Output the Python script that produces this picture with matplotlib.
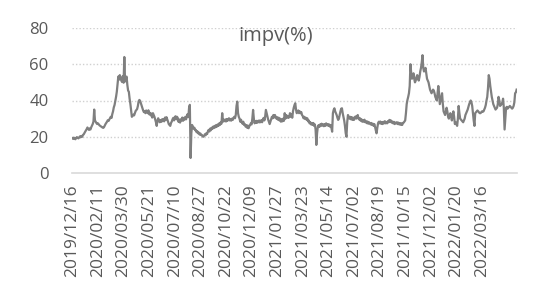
import matplotlib
matplotlib.use("Agg")
import matplotlib.pyplot as plt

plt.rcParams['font.family'] = ['Open Sans', 'DejaVu Sans']

title = "impv(%)"
tick_labels = ["2019/12/16", "2020/02/11", "2020/03/30", "2020/05/21", "2020/07/10",
               "2020/08/27", "2020/10/22", "2020/12/09", "2021/01/27", "2021/03/23",
               "2021/05/14", "2021/07/02", "2021/08/19", "2021/10/15", "2021/12/02",
               "2022/01/20", "2022/03/16"]
label_step = 34  # trading days between labelled categories
y_ticks = [0, 20, 40, 60, 80]

impv = [
    19.2, 18.8, 19.5, 19.0, 18.6, 19.3, 19.8, 19.4, 19.1, 19.6,
    20.2, 19.7, 20.4, 20.0, 21.0, 21.3, 22.1, 22.8, 23.5, 24.2,
    25.1, 24.3, 23.8, 24.6, 24.0, 25.2, 26.1, 27.0, 28.4, 35.0,
    29.0, 28.2, 27.5, 27.0, 27.4, 26.8, 26.3, 26.0, 25.7, 25.4,
    25.1, 24.9, 25.3, 26.2, 27.0, 27.6, 28.3, 29.1, 28.7, 29.5,
    30.2, 31.0, 30.4, 32.5, 34.0, 36.2, 37.5, 39.6, 42.0, 44.8,
    49.0, 53.2, 51.5, 54.0, 52.3, 51.0, 50.2, 53.5, 49.8, 64.0,
    50.5, 52.0, 53.2, 48.6, 45.5, 44.8, 41.0, 38.2, 34.5, 31.0,
    31.6, 32.2, 31.8, 33.0, 34.2, 34.8, 35.3, 37.0, 39.6, 40.3,
    39.8, 38.5, 37.2, 35.8, 34.5, 33.6, 34.2, 33.0, 34.5, 33.8,
    33.0, 34.6, 32.4, 33.2, 31.8, 32.8, 30.6, 33.0, 32.0, 31.0,
    29.5, 28.0, 26.0, 29.0, 30.2, 28.8, 28.0, 29.2, 28.2, 29.6,
    28.6, 29.8, 28.5, 30.6, 29.4, 30.8, 29.6, 28.4, 27.0, 26.5,
    26.0, 27.6, 28.4, 29.6, 30.4, 29.0, 30.8, 31.3, 29.6, 31.0,
    30.3, 28.2, 29.5, 27.8, 29.6, 29.0, 30.6, 28.8, 30.4, 29.5,
    31.0, 29.6, 31.4, 32.5, 30.8, 36.0, 37.6, 8.3, 22.0, 26.5,
    25.4, 24.5, 25.0, 23.6, 23.8, 22.5, 23.0, 21.9, 22.3, 21.2,
    21.8, 20.9, 21.0, 20.2, 20.0, 20.6, 21.4, 20.8, 22.0, 21.5,
    23.0, 23.8, 22.9, 24.5, 23.6, 25.0, 24.4, 25.6, 24.8, 26.0,
    25.2, 26.5, 25.6, 26.8, 26.0, 27.4, 26.5, 28.0, 27.2, 33.0,
    28.3, 29.4, 28.6, 29.5, 28.4, 29.8, 28.8, 29.6, 30.2, 29.0,
    29.8, 28.9, 30.0, 29.3, 30.4, 31.0, 30.2, 32.0, 37.0, 39.4,
    33.0, 31.0, 30.0, 28.3, 29.4, 28.0, 27.2, 28.3, 26.5, 27.0,
    25.6, 26.4, 25.0, 26.2, 24.7, 25.8, 26.5, 27.4, 26.8, 30.0,
    34.8, 30.0, 27.4, 28.5, 27.6, 28.8, 27.8, 28.3, 29.0, 27.9,
    28.6, 29.2, 28.0, 29.5, 30.4, 29.0, 31.0, 34.8, 33.0, 31.0,
    29.5, 28.3, 27.0, 28.4, 29.8, 31.0, 30.2, 32.0, 30.6, 32.0,
    31.0, 30.0, 30.8, 29.4, 30.5, 29.0, 30.0, 28.3, 29.6, 28.5,
    30.0, 28.8, 33.0, 30.0, 32.0, 30.6, 31.5, 30.4, 31.0, 33.0,
    31.0, 32.5, 30.5, 34.0, 36.0, 37.5, 38.5, 35.0, 33.0, 34.0,
    34.5, 33.0, 34.0, 33.0, 33.6, 32.0, 31.4, 30.2, 31.0, 29.8,
    30.5, 29.4, 30.2, 28.5, 29.0, 27.4, 28.0, 26.8, 27.5, 26.5,
    27.6, 26.0, 26.8, 24.0, 15.5, 22.0, 25.6, 26.4, 25.4, 26.8,
    26.0, 27.2, 26.2, 26.8, 25.8, 27.0, 26.0, 27.4, 26.4, 27.0,
    26.0, 26.8, 25.6, 26.5, 25.0, 22.8, 33.0, 34.8, 35.7, 34.0,
    33.0, 32.0, 30.5, 29.3, 30.0, 32.0, 34.0, 35.5, 35.7, 33.0,
    31.0, 29.0, 26.0, 22.0, 20.0, 28.0, 32.0, 31.0, 30.0, 31.0,
    29.6, 30.8, 29.3, 30.5, 29.3, 30.6, 31.2, 30.0, 31.0, 32.0,
    30.0, 29.5, 30.2, 28.8, 29.6, 28.3, 29.0, 28.3, 29.4, 28.0,
    28.6, 27.5, 28.4, 27.2, 28.0, 27.4, 26.8, 27.6, 26.5, 27.2,
    26.0, 27.0, 25.4, 23.5, 21.9, 25.0, 27.5, 28.3, 27.4, 28.4,
    27.2, 28.0, 27.0, 28.2, 27.4, 28.6, 27.4, 28.0, 27.4, 28.6,
    28.0, 29.3, 28.4, 29.0, 27.8, 28.4, 27.4, 28.2, 27.0, 27.8,
    27.4, 28.0, 27.0, 27.8, 26.8, 27.5, 26.6, 27.4, 26.5, 27.6,
    27.8, 28.4, 29.0, 33.0, 38.0, 40.3, 42.0, 44.0, 48.0, 60.0,
    55.0, 52.0, 53.0, 55.0, 52.0, 50.0, 51.0, 53.0, 54.0, 52.0,
    51.0, 53.0, 56.0, 58.0, 61.0, 65.0, 58.0, 56.0, 57.0, 58.0,
    55.0, 52.0, 51.0, 50.0, 48.0, 46.0, 45.0, 44.0, 45.0, 46.0,
    45.5, 44.0, 42.0, 41.0, 40.0, 44.0, 48.0, 44.0, 38.0, 40.0,
    42.0, 44.0, 38.0, 34.0, 33.0, 32.0, 34.0, 36.0, 34.0, 31.0,
    30.0, 32.0, 33.0, 31.0, 29.0, 32.0, 34.0, 31.0, 27.0, 28.0,
    27.0, 26.0, 30.0, 37.0, 33.0, 30.0, 29.5, 29.0, 28.5, 28.0,
    29.0, 30.0, 32.0, 33.0, 34.0, 35.0, 36.5, 38.0, 39.0, 40.0,
    39.0, 37.0, 33.0, 29.0, 26.0, 33.0, 33.5, 34.0, 34.5, 34.0,
    33.5, 33.0, 33.0, 33.5, 34.0, 33.8, 34.0, 35.0, 36.0, 37.5,
    40.0, 42.0, 47.0, 54.0, 52.0, 48.0, 45.0, 42.0, 40.0, 38.0,
    37.0, 36.0, 35.0, 35.5, 36.0, 38.0, 42.0, 40.0, 37.0, 37.5,
    38.0, 39.0, 41.0, 36.0, 24.0, 30.0, 36.0, 36.5, 35.5, 36.0,
    36.5, 37.0, 36.5, 36.0, 35.5, 36.0, 37.0, 39.0, 44.0, 44.5,
    46.0,
]

W, H = 537, 299
fig = plt.figure(figsize=(W / 100, H / 100), dpi=100)
left, right, top, bottom = 72, 517, 28, 173
ax = fig.add_axes([left / W, 1 - bottom / H, (right - left) / W, (bottom - top) / H])

x = list(range(len(impv)))
ax.plot(x, impv, color='#7f7f7f', lw=1.6, solid_joinstyle='round')

ax.set_xlim(-0.5, len(impv) - 0.5)
ax.set_ylim(0, 80)
ax.set_yticks(y_ticks)
ax.set_yticklabels([str(v) for v in y_ticks])
ax.set_xticks([i * label_step for i in range(len(tick_labels))])
ax.set_xticklabels(tick_labels, rotation=90, va='top', ha='center')

text_color = '#595959'
ax.tick_params(axis='y', length=0, pad=17, labelsize=12, labelcolor=text_color)
ax.tick_params(axis='x', length=0, pad=8, labelsize=12.5, labelcolor=text_color)

for v in y_ticks[1:]:
    ax.axhline(v, color='#d0d0d0', lw=1, ls=(0, (1, 1.5)), zorder=0)
for s in ['top', 'right', 'left']:
    ax.spines[s].set_visible(False)
ax.spines['bottom'].set_color('#d9d9d9')
ax.spines['bottom'].set_linewidth(1.2)
ax.set_facecolor('white')

fig.text(275.5 / W, 1 - 36 / H, title, ha='center', va='center', fontsize=14.5, color=text_color)

fig.savefig('out.png', dpi=100, facecolor='white')
